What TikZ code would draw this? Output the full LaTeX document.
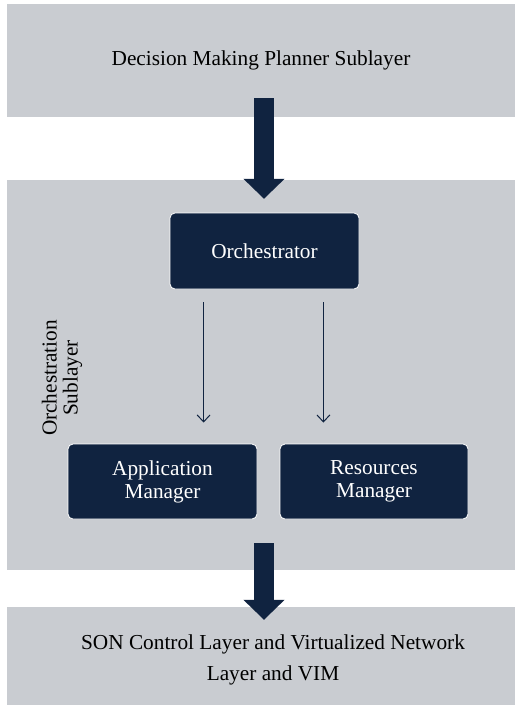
\documentclass[tikz,border=0pt]{standalone}
\usepackage{fontspec}
\setmainfont{Liberation Serif}
\usetikzlibrary{arrows.meta,calc}
\definecolor{layergray}{RGB}{201,204,209}
\definecolor{navy}{RGB}{16,35,64}
\begin{document}
\begin{tikzpicture}[x=1pt,y=-1pt,
  layer/.style={fill=layergray, draw=none, inner sep=0pt},
  darkbox/.style={fill=navy, draw=white, line width=0.8pt, rounded corners=5pt, text=white,
    align=center, inner sep=0pt, font=\fontsize{21.3}{23}\selectfont},
  txt/.style={align=center, inner sep=0pt, text=black},
  bigarrow/.style={navy, line width=20pt, -{Triangle[length=20pt,width=40pt]}},
  thinarrow/.style={navy, line width=1pt, -{Straight Barb[length=7pt,width=13pt]}}]
\useasboundingbox (0,0) rectangle (515,705);
\fill[white] (0,0) rectangle (515,705);

\node[layer, minimum width=508pt, minimum height=113pt, font=\fontsize{21.3}{23}\selectfont] (dm) at (261,60.5) {Decision Making Planner Sublayer};
\node[layer, minimum width=508pt, minimum height=390pt] (orl) at (261,375) {};
\node[layer, minimum width=508pt, minimum height=98pt] (son) at (261,656) {};
\node[txt, font=\fontsize{21.3}{31}\selectfont] (sontxt) at (273,659.5) {SON Control Layer and Virtualized Network\\Layer and VIM};

\node[txt, rotate=90, font=\fontsize{21.3}{21}\selectfont] (orlabel) at (62,378) {Orchestration\\Sublayer};

\node[darkbox, minimum width=189pt, minimum height=76pt] (orch) at (264.5,251) {Orchestrator};
\node[darkbox, minimum width=189pt, minimum height=75pt] (app) at (162.5,481.5) {Application\\Manager};
\node[darkbox, minimum width=188pt, minimum height=75pt] (res) at (374,481.5) {Resources\\Manager};

\draw[bigarrow] ($(dm.south)+(3,-19)$) -- ($(orl.north)+(3,19)$);
\draw[bigarrow] ($(orl.south)+(3,-27)$) -- ($(son.north)+(3,13)$);

\draw[thinarrow] ($(orch.south west)+(34,13)$) -- ($(orch.south west |- app.north)+(34,-21)$);
\draw[thinarrow] ($(orch.south east)+(-36,13)$) -- ($(orch.south east |- res.north)+(-36,-21)$);
\end{tikzpicture}
\end{document}
